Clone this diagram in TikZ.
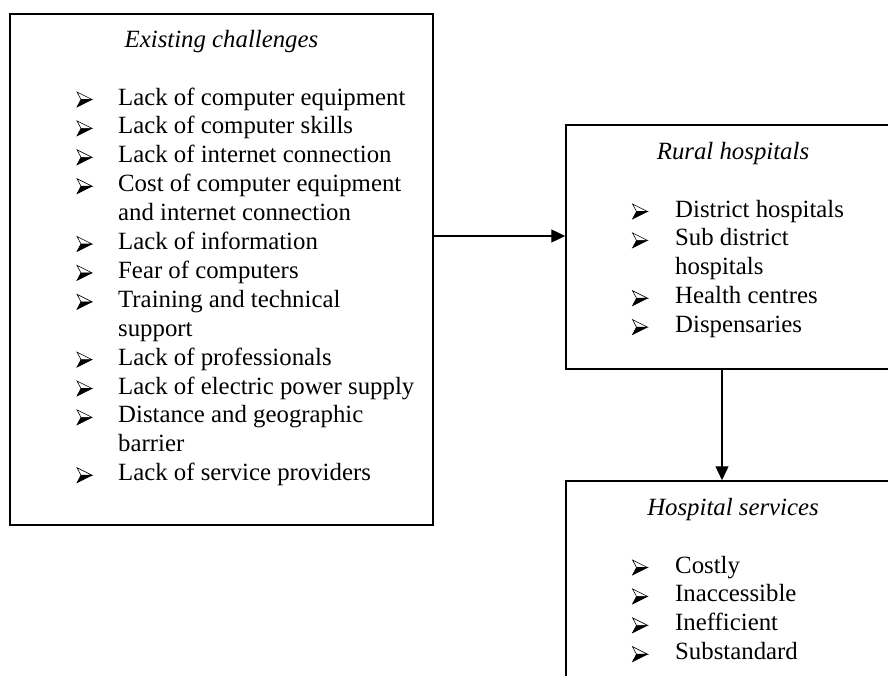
\documentclass[tikz,border=0pt]{standalone}
\usepackage{fontspec}
\setmainfont{Liberation Serif}
\usetikzlibrary{arrows.meta}
\begin{document}
\begin{tikzpicture}[x=1pt,y=-1pt,
  box/.style={draw=black, line width=1.5pt, rectangle, inner sep=0pt},
  conn/.style={draw=black, line width=1.3pt, -{Triangle[length=14pt,width=13pt]}},
  txt/.style={anchor=base west, inner sep=0pt, font=\fontsize{24.8}{28.9}\selectfont},
  ttl/.style={anchor=base, inner sep=0pt, font=\fontsize{24.8}{28.9}\selectfont\itshape},
  bul/.pic={
    \fill[black] (7.5,0) -- (-3.5,0) -- (-7.5,7.5) -- cycle;
    \draw[line width=0.6pt, line join=miter] (7.5,0) -- (-7.5,-7.5) -- (-3.5,0) -- cycle;
    \draw[line width=0.6pt, line join=miter] (7.5,0) -- (-7.5,7.5) -- (-3.5,0);
  }]
\useasboundingbox (0,0) rectangle (888,675);
\clip (0,0) rectangle (888,675);
\fill[white] (0,0) rectangle (888,675);

% boxes
\node[box, minimum width=423pt, minimum height=511pt] (chal) at (221.5,269.5) {};
\node[box, minimum width=334pt, minimum height=244pt] (rural) at (733,247) {};
\node[box, minimum width=334pt, minimum height=240pt] (serv) at (733,601) {};

% connectors
\coordinate (hy) at (0,236);
\coordinate (vx) at (722,0);
\draw[conn] (chal.east |- hy) -- (rural.west |- hy);
\draw[conn] (rural.south -| vx) -- (serv.north -| vx);

% Existing challenges
\node[ttl] (t1) at (221.5,47) {Existing challenges};
\node[txt] (c1)  at (118,105.0) {Lack of computer equipment};
\node[txt] (c2)  at (118,133.9) {Lack of computer skills};
\node[txt] (c3)  at (118,162.8) {Lack of internet connection};
\node[txt] (c4)  at (118,191.7) {Cost of computer equipment};
\node[txt] (c4b) at (118,220.6) {and internet connection};
\node[txt] (c5)  at (118,249.5) {Lack of information};
\node[txt] (c6)  at (118,278.4) {Fear of computers};
\node[txt] (c7)  at (118,307.3) {Training and technical};
\node[txt] (c7b) at (118,336.2) {support};
\node[txt] (c8)  at (118,365.1) {Lack of professionals};
\node[txt] (c9)  at (118,394.0) {Lack of electric power supply};
\node[txt] (c10) at (118,422.9) {Distance and geographic};
\node[txt] (c10b) at (118,451.8) {barrier};
\node[txt] (c11) at (118,480.7) {Lack of service providers};
\foreach \y in {105.0,133.9,162.8,191.7,249.5,278.4,307.3,365.1,394.0,422.9,480.7}
  \pic at (84.5,\y-5.5) {bul};

% Rural hospitals
\node[ttl] (t2) at (733,159) {Rural hospitals};
\node[txt] (r1)  at (675,217) {District hospitals};
\node[txt] (r2)  at (675,245.9) {Sub district};
\node[txt] (r2b) at (675,274.8) {hospitals};
\node[txt] (r3)  at (675,303.7) {Health centres};
\node[txt] (r4)  at (675,332.6) {Dispensaries};
\foreach \y in {217,245.9,303.7,332.6}
  \pic at (640,\y-5.5) {bul};

% Hospital services
\node[ttl] (t3) at (733,515.2) {Hospital services};
\node[txt] (s1) at (675,573) {Costly};
\node[txt] (s2) at (675,601.9) {Inaccessible};
\node[txt] (s3) at (675,630.8) {Inefficient};
\node[txt] (s4) at (675,659.7) {Substandard};
\foreach \y in {573,601.9,630.8,659.7}
  \pic at (640,\y-5.5) {bul};
\end{tikzpicture}
\end{document}
